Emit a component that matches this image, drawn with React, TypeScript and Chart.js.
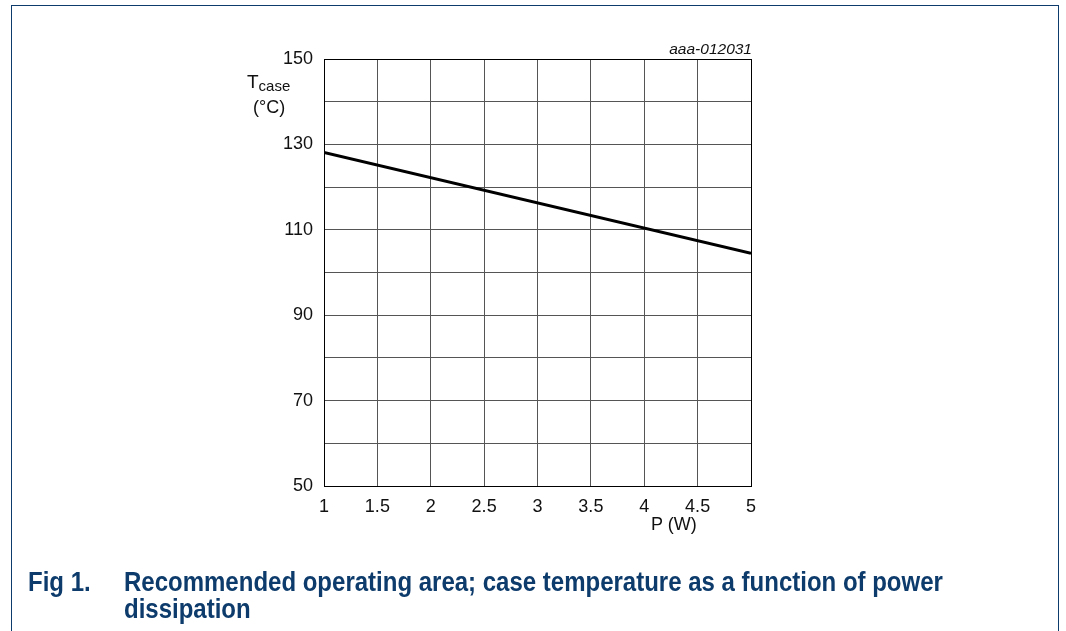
import React, { useEffect, useRef } from "react";
import { Chart, registerables } from "chart.js";

Chart.register(...registerables);

const powerW = [1, 5];
const caseTempC = [128.1, 104.5];
const yLabelValues = [50, 70, 90, 110, 130, 150];
const xMin = 1;
const xMax = 5;
const yMin = 50;
const yMax = 150;

const FONT = "'Liberation Sans', Arial, sans-serif";
const NAVY = "#0d3b6b";

export default function App() {
  const ref = useRef<HTMLCanvasElement | null>(null);

  useEffect(() => {
    if (!ref.current) return;
    const chart = new Chart(ref.current, {
      type: "scatter",
      data: {
        datasets: [
          {
            data: powerW.map((x, i) => ({ x, y: caseTempC[i] })),
            showLine: true,
            borderColor: "#000",
            borderWidth: 3,
            pointRadius: 0,
            fill: false,
          },
        ],
      },
      options: {
        animation: false,
        responsive: false,
        maintainAspectRatio: false,
        layout: { padding: { left: 274, right: 315, top: 59, bottom: 115 } },
        plugins: { legend: { display: false }, tooltip: { enabled: false }, title: { display: false } },
        scales: {
          x: {
            type: "linear",
            min: xMin,
            max: xMax,
            afterFit: (s: any) => {
              s.height = 30;
            },
            ticks: {
              stepSize: 0.5,
              padding: 10,
              color: "#111",
              font: { family: FONT, size: 18 },
              maxRotation: 0,
              autoSkip: false,
              callback: (v: any) => String(v),
            },
            grid: {
              drawTicks: false,
              color: (c: any) => (c.tick && (c.tick.value === xMax) ? "#000" : "#555"),
              lineWidth: 1,
            },
            border: { display: true, color: "#000", width: 1 },
          },
          y: {
            type: "linear",
            min: yMin,
            max: yMax,
            afterFit: (s: any) => {
              s.width = 50;
            },
            ticks: {
              stepSize: 10,
              padding: 11,
              color: "#111",
              font: { family: FONT, size: 18 },
              autoSkip: false,
              callback: (v: any) => (yLabelValues.includes(Number(v)) ? String(v) : ""),
            },
            grid: {
              drawTicks: false,
              color: (c: any) => (c.tick && (c.tick.value === yMax) ? "#000" : "#555"),
              lineWidth: 1,
            },
            border: { display: true, color: "#000", width: 1 },
          },
        },
      },
    });
    return () => chart.destroy();
  }, []);

  return (
    <div
      style={{
        position: "fixed",
        left: 0,
        top: 0,
        width: 1066,
        height: 631,
        background: "#fff",
        overflow: "hidden",
        fontFamily: FONT,
      }}
    >
      <div
        style={{
          position: "absolute",
          left: 11,
          top: 5,
          width: 1046,
          height: 640,
          borderLeft: `1.5px solid ${NAVY}`,
          borderTop: `1.5px solid ${NAVY}`,
          borderRight: `1.5px solid ${NAVY}`,
        }}
      />
      <canvas ref={ref} width={1066} height={631} style={{ position: "absolute", left: 0, top: 0, width: 1066, height: 631 }} />
      <div style={{ position: "absolute", right: 1066 - 752, top: 40, fontSize: 15.5, fontStyle: "italic", color: "#111", whiteSpace: "nowrap" }}>
        aaa-012031
      </div>
      <div style={{ position: "absolute", left: 247, top: 72, fontSize: 19, color: "#111", whiteSpace: "nowrap", lineHeight: "20px" }}>
        T<span style={{ fontSize: 15, position: "relative", top: 3 }}>case</span>
      </div>
      <div style={{ position: "absolute", left: 253, top: 97, fontSize: 18, color: "#111", whiteSpace: "nowrap", lineHeight: "20px" }}>
        (°C)
      </div>
      <div style={{ position: "absolute", left: 651, top: 514, fontSize: 18, color: "#111", whiteSpace: "nowrap", lineHeight: "20px" }}>
        P (W)
      </div>
      <div
        style={{
          position: "absolute",
          left: 28,
          top: 569.2,
          fontSize: 24,
          fontWeight: "bold",
          color: NAVY,
          whiteSpace: "nowrap",
          lineHeight: "24.1px",
          transform: "scaleY(1.12)",
          transformOrigin: "0 0",
        }}
      >
        Fig 1.
      </div>
      <div
        style={{
          position: "absolute",
          left: 124,
          top: 569.2,
          fontSize: 24,
          fontWeight: "bold",
          color: NAVY,
          lineHeight: "24.1px",
          width: 900,
          transform: "scaleY(1.12)",
          transformOrigin: "0 0",
        }}
      >
        Recommended operating area; case temperature as a function of power
        <br />
        dissipation
      </div>
    </div>
  );
}
